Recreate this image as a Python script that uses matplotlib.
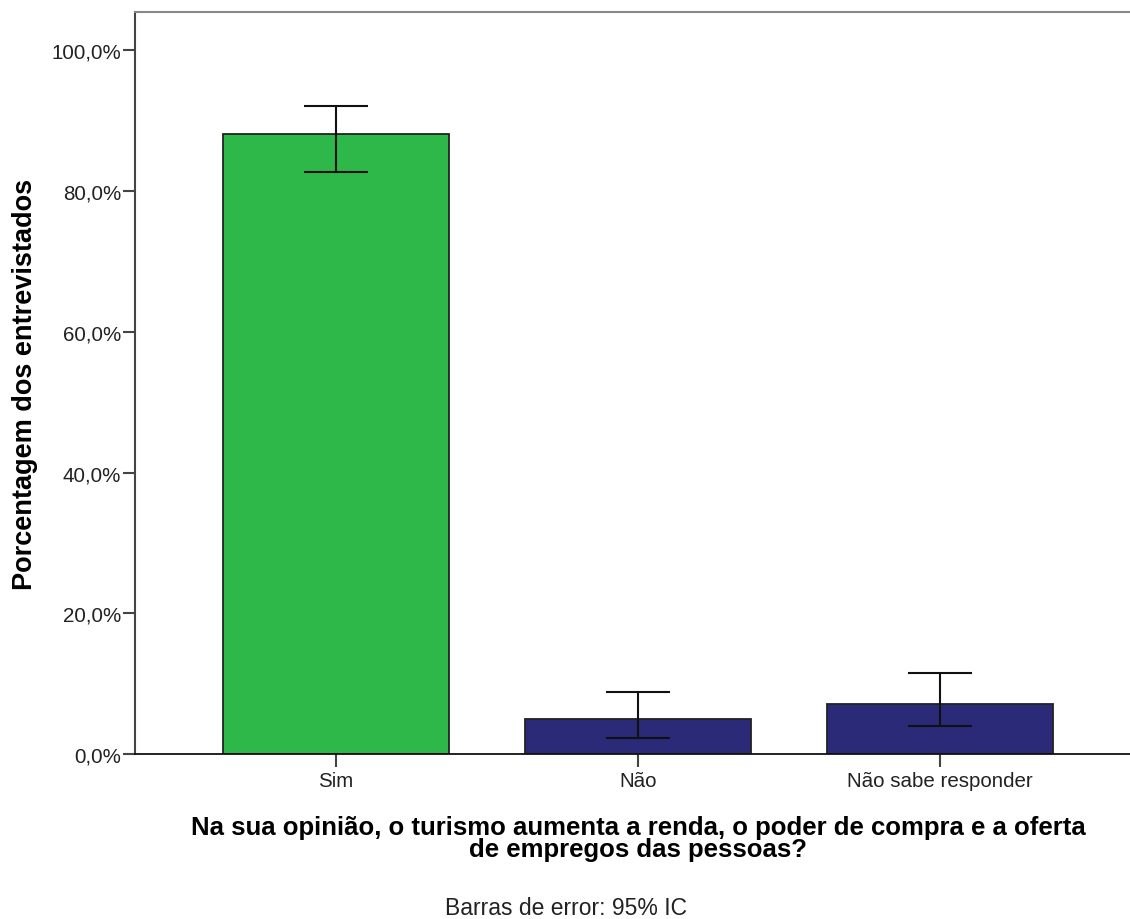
import matplotlib
matplotlib.use('Agg')
import matplotlib.pyplot as plt
import numpy as np
from matplotlib.ticker import FuncFormatter

# Data (percent of respondents, with 95% CI)
categories = ['Sim', 'Não', 'Não sabe responder']
values = [88.0, 5.0, 7.1]
ci_low = [82.7, 2.3, 4.0]
ci_high = [92.1, 8.8, 11.5]
bar_colors = ['#2fb84a', '#2a2a78']

plt.rcParams['font.family'] = ['Liberation Sans', 'DejaVu Sans']

fig = plt.figure(figsize=(11.3, 9.2), dpi=100)
ax = fig.add_axes([0.1195, 0.179, 0.890, 0.807])

x = np.arange(len(categories))
colors = [bar_colors[0]] + [bar_colors[1]] * (len(categories) - 1)
err = [np.array(values) - np.array(ci_low), np.array(ci_high) - np.array(values)]

ax.bar(x, values, width=0.75, color=colors, edgecolor='#222222', linewidth=1.3, zorder=2)
ax.errorbar(x, values, yerr=err, fmt='none', ecolor='#111111', elinewidth=1.5,
            capsize=23, capthick=1.5, zorder=3)

ax.set_xlim(-0.666, 2.666)
ax.set_ylim(0, 105.4)
ax.set_yticks([0, 20, 40, 60, 80, 100])
ax.yaxis.set_major_formatter(FuncFormatter(lambda v, p: f'{v:.1f}%'.replace('.', ',')))
ax.set_xticks(x)
ax.set_xticklabels(categories)

ax.tick_params(axis='y', length=9, width=1.5, color='#444444', labelsize=14.8, pad=1, labelcolor='#222222')
ax.tick_params(axis='x', length=9, width=1.5, color='#444444', labelsize=14.8, pad=3, labelcolor='#222222')

ax.spines['right'].set_visible(False)
ax.spines['top'].set_color('#888888')
ax.spines['top'].set_linewidth(1.5)
ax.spines['left'].set_color('#444444')
ax.spines['left'].set_linewidth(1.5)
ax.spines['bottom'].set_color('#111111')
ax.spines['bottom'].set_linewidth(1.3)

ax.set_ylabel('Porcentagem dos entrevistados', fontsize=19.5, fontweight='bold', labelpad=10)
ax.set_xlabel('Na sua opinião, o turismo aumenta a renda, o poder de compra e a oferta\nde empregos das pessoas?',
              fontsize=18.5, fontweight='bold', labelpad=18, linespacing=0.92)

fig.text(0.501, 0.012, 'Barras de error: 95% IC', ha='center', va='center', fontsize=16.5, color='#222222')

fig.savefig('out.png', dpi=100)
